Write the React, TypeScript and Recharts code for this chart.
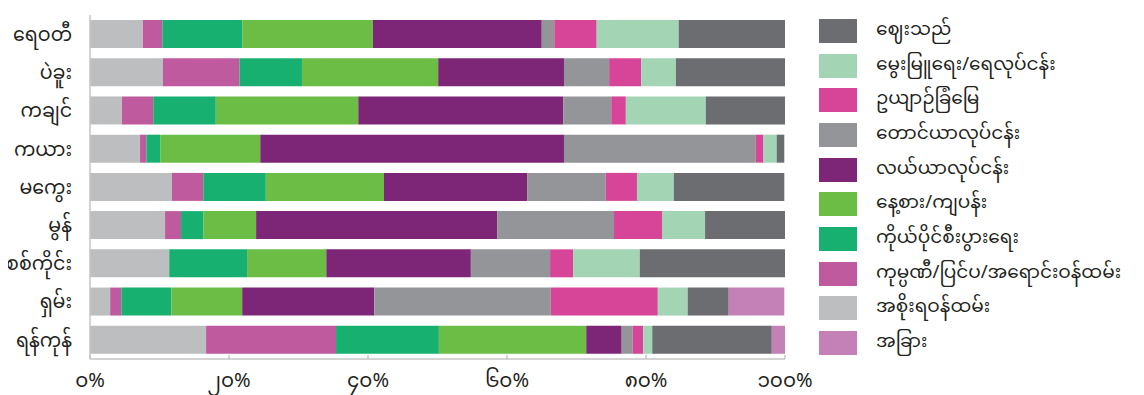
import { BarChart, Bar, XAxis, YAxis } from "recharts";

const regions = ["ရေဝတီ", "ပဲခူး", "ကချင်", "ကယား", "မကွေး", "မွန်", "စစ်ကိုင်း", "ရှမ်း", "ရန်ကုန်"];

// one array per occupation, same order as regions (percent)
const government = [7.6, 10.5, 4.6, 7.2, 11.8, 10.8, 11.4, 2.9, 16.7];
const company = [2.8, 11.0, 4.5, 0.9, 4.5, 2.3, 0, 1.6, 18.7];
const ownBusiness = [11.5, 9.0, 9.0, 2.0, 9.0, 3.2, 11.2, 7.2, 14.8];
const dailyWage = [18.8, 19.6, 20.5, 14.4, 17.0, 7.6, 11.4, 10.2, 21.2];
const farming = [24.3, 18.1, 29.5, 43.7, 20.6, 34.7, 20.8, 19.0, 5.1];
const upland = [1.8, 6.5, 6.9, 27.6, 11.3, 16.8, 11.4, 25.4, 1.6];
const garden = [6.1, 4.6, 2.1, 1.1, 4.5, 6.9, 3.3, 15.4, 1.5];
const livestock = [11.8, 5.0, 11.5, 1.9, 5.3, 6.2, 9.6, 4.3, 1.3];
const vendor = [15.3, 15.7, 11.4, 1.1, 15.9, 11.5, 20.9, 5.9, 17.2];
const other = [0, 0, 0, 0, 0, 0, 0, 8.0, 1.9];

const xTicks = [0, 20, 40, 60, 80, 100];

const series = [
  { key: "gov", name: "အစိုးရဝန်ထမ်း", color: "#bdbec0", values: government },
  { key: "company", name: "ကုမ္ပဏီ/ပြင်ပ/အရောင်းဝန်ထမ်း", color: "#c05a9e", values: company },
  { key: "own", name: "ကိုယ်ပိုင်စီးပွားရေး", color: "#17b070", values: ownBusiness },
  { key: "daily", name: "နေ့စား/ကျပန်း", color: "#6cbd45", values: dailyWage },
  { key: "farm", name: "လယ်ယာလုပ်ငန်း", color: "#7d2678", values: farming },
  { key: "upland", name: "တောင်ယာလုပ်ငန်း", color: "#949598", values: upland },
  { key: "garden", name: "ဥယျာဉ်ခြံမြေ", color: "#d64598", values: garden },
  { key: "livestock", name: "မွေးမြူရေး/ရေလုပ်ငန်း", color: "#a3d4b4", values: livestock },
  { key: "vendor", name: "ဈေးသည်", color: "#6c6d70", values: vendor },
  { key: "other", name: "အခြား", color: "#c481b7", values: other },
];

// legend lists the stack in reverse, with "other" kept last
const legendOrder = ["vendor", "livestock", "garden", "upland", "farm", "daily", "own", "company", "gov", "other"];

const data = regions.map((r, i) => {
  const row: Record<string, string | number> = { region: r };
  series.forEach((s) => (row[s.key] = s.values[i]));
  return row;
});

const mmDigits = "၀၁၂၃၄၅၆၇၈၉";
const toMyanmar = (n: number) =>
  String(n)
    .split("")
    .map((d) => mmDigits[Number(d)])
    .join("");

const FONT = "'Noto Sans Myanmar', Padauk, 'Noto Sans', sans-serif";
const AXIS = "#c4c4c4";

function XTick(props: any) {
  const { x, y, payload } = props;
  return (
    <g>
      <line x1={x} x2={x} y1={y - 4} y2={y} stroke={AXIS} strokeWidth={1.5} />
      <text x={x} y={y + 28} textAnchor="middle" fontSize={20} fill="#231f20" fontFamily={FONT}>
        {toMyanmar(payload.value) + "%"}
      </text>
    </g>
  );
}

export default function App() {
  return (
    <div style={{ position: "relative", width: 1128, height: 387 }}>
      <BarChart
        width={1128}
        height={387}
        data={data}
        layout="vertical"
        barSize={28}
        margin={{ top: 7, right: 351, bottom: 0, left: 0 }}
      >
        <XAxis
          type="number"
          domain={[0, 100]}
          ticks={xTicks}
          height={36}
          tickSize={0}
          tickMargin={0}
          tickLine={false}
          axisLine={{ stroke: AXIS, strokeWidth: 1.5 }}
          tick={<XTick />}
        />
        <YAxis
          type="category"
          dataKey="region"
          width={82}
          tickLine={false}
          tickMargin={12}
          axisLine={{ stroke: AXIS, strokeWidth: 1.5 }}
          tick={{ fontSize: 19, fill: "#231f20", fontFamily: FONT }}
        />
        {series.map((s) => (
          <Bar key={s.key} dataKey={s.key} name={s.name} stackId="a" fill={s.color} isAnimationActive={false} />
        ))}
      </BarChart>
      <div style={{ position: "absolute", left: 811, top: 5.6, fontFamily: FONT }}>
        {legendOrder.map((k) => {
          const s = series.find((x) => x.key === k)!;
          return (
            <div key={k} style={{ display: "flex", alignItems: "center", height: 34.7 }}>
              <div style={{ width: 38, height: 24, background: s.color, marginRight: 19 }} />
              <span style={{ fontSize: 18.5, lineHeight: "22px", color: "#231f20", whiteSpace: "nowrap" }}>
                {s.name}
              </span>
            </div>
          );
        })}
      </div>
    </div>
  );
}
